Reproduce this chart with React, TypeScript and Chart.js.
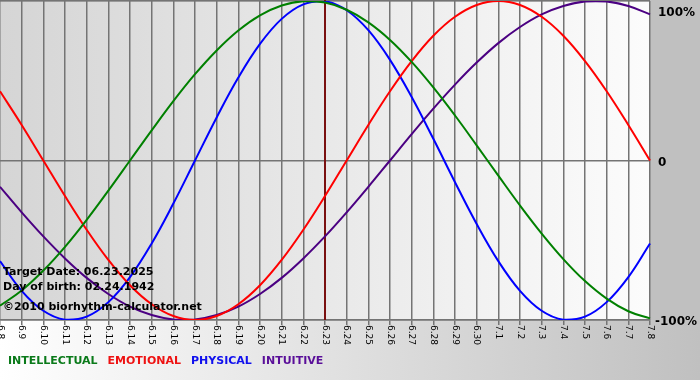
import React, { useEffect, useRef } from 'react';
import { Chart, registerables } from 'chart.js';

Chart.register(...registerables);

// ---- Data ----
const dayLabels = [
  '6.8', '6.9', '6.10', '6.11', '6.12', '6.13', '6.14', '6.15', '6.16', '6.17',
  '6.18', '6.19', '6.20', '6.21', '6.22', '6.23', '6.24', '6.25', '6.26', '6.27',
  '6.28', '6.29', '6.30', '7.1', '7.2', '7.3', '7.4', '7.5', '7.6', '7.7', '7.8',
];

const intellectual = [
  -0.91, -0.815, -0.69, -0.541, -0.372, -0.189, 0.0, 0.189, 0.372, 0.541,
  0.69, 0.815, 0.91, 0.972, 0.999, 0.99, 0.945, 0.866, 0.756, 0.618,
  0.458, 0.282, 0.095, -0.095, -0.282, -0.458, -0.618, -0.756, -0.866, -0.945, -0.99,
];

const emotional = [
  0.434, 0.223, 0.0, -0.223, -0.434, -0.623, -0.782, -0.901, -0.975, -1.0,
  -0.975, -0.901, -0.782, -0.623, -0.434, -0.223, 0.0, 0.223, 0.434, 0.623,
  0.782, 0.901, 0.975, 1.0, 0.975, 0.901, 0.782, 0.623, 0.434, 0.223, 0.0,
];

const physical = [
  -0.631, -0.817, -0.942, -0.998, -0.979, -0.888, -0.731, -0.52, -0.27, 0.0,
  0.27, 0.52, 0.731, 0.888, 0.979, 0.998, 0.942, 0.817, 0.631, 0.398,
  0.136, -0.136, -0.398, -0.631, -0.817, -0.942, -0.998, -0.979, -0.888, -0.731, -0.52,
];

const intuitive = [
  -0.165, -0.325, -0.476, -0.614, -0.736, -0.837, -0.916, -0.969, -0.997, -0.997,
  -0.969, -0.916, -0.837, -0.736, -0.614, -0.476, -0.325, -0.165, 0.0, 0.165,
  0.325, 0.476, 0.614, 0.736, 0.837, 0.916, 0.969, 0.997, 0.997, 0.969, 0.916,
];

const seriesNames = ['INTELLECTUAL', 'EMOTIONAL', 'PHYSICAL', 'INTUITIVE'];
const seriesColors = ['#008000', '#ff0000', '#0000ff', '#4b0082'];
const legendColors = ['#0a7a1a', '#ee1111', '#1010ee', '#5a0f99'];

const yTickValues = [1, 0, -1];
const yTickLabels = ['100%', '0', '-100%'];

const targetDay = '6.23';
const infoLines = [
  'Target Date: 06.23.2025',
  'Day of birth: 02.24.1942',
  '\u00A92010 biorhythm-calculator.net',
];

const FONT = "'DejaVu Sans', Verdana, sans-serif";

const decorPlugin = {
  id: 'decor',
  beforeDraw(chart: any) {
    const { ctx, width, height, chartArea: ca } = chart;
    ctx.save();
    const g = ctx.createLinearGradient(0, 0, width, 0);
    g.addColorStop(0, '#ffffff');
    g.addColorStop(1, '#c0c0c0');
    ctx.fillStyle = g;
    ctx.fillRect(0, 0, width, height);
    ctx.fillStyle = '#c0c0c0';
    ctx.fillRect(ca.right, 0, width - ca.right, ca.bottom);
    const g2 = ctx.createLinearGradient(ca.left, 0, ca.right, 0);
    g2.addColorStop(0, '#d5d5d5');
    g2.addColorStop(1, '#fcfcfc');
    ctx.fillStyle = g2;
    ctx.fillRect(ca.left, 0, ca.right - ca.left, ca.bottom);
    // top border
    ctx.strokeStyle = '#707070';
    ctx.lineWidth = 1.5;
    ctx.beginPath();
    ctx.moveTo(ca.left, 0.5);
    ctx.lineTo(ca.right, 0.5);
    ctx.stroke();
    ctx.restore();
  },
  beforeDatasetsDraw(chart: any) {
    const { ctx, chartArea: ca } = chart;
    const xs = chart.scales.x;
    const x = xs.getPixelForValue(dayLabels.indexOf(targetDay));
    ctx.save();
    ctx.strokeStyle = '#7a1010';
    ctx.lineWidth = 2;
    ctx.beginPath();
    ctx.moveTo(x, 0);
    ctx.lineTo(x, ca.bottom);
    ctx.stroke();
    ctx.restore();
  },
  afterDraw(chart: any) {
    const { ctx, chartArea: ca } = chart;
    const xs = chart.scales.x;
    const ys = chart.scales.y;
    ctx.save();
    // x tick labels, rotated clockwise
    ctx.fillStyle = '#000';
    ctx.font = `9px ${FONT}`;
    ctx.textAlign = 'left';
    ctx.textBaseline = 'middle';
    dayLabels.forEach((lab, i) => {
      const x = xs.getPixelForValue(i);
      ctx.save();
      ctx.translate(x, ca.bottom + 5);
      ctx.rotate(Math.PI / 2);
      ctx.fillText(lab, 0, 0);
      ctx.restore();
    });
    // y labels on the right
    ctx.font = `bold 12px ${FONT}`;
    ctx.textBaseline = 'middle';
    yTickValues.forEach((v, i) => {
      const y = ys.getPixelForValue(v);
      const off = v === 1 ? 12 : 2;
      const x = v === -1 ? ca.right + 5 : ca.right + 8;
      ctx.fillText(yTickLabels[i], x, y + off);
    });
    // info text
    ctx.font = `bold 11px ${FONT}`;
    const infoY = [272, 287, 307];
    infoLines.forEach((t, i) => ctx.fillText(t, 3, infoY[i]));
    // legend
    let lx = 8;
    seriesNames.forEach((n, i) => {
      ctx.fillStyle = legendColors[i];
      ctx.fillText(n, lx, 361);
      lx += ctx.measureText(n).width + 10;
    });
    ctx.restore();
  },
};

export default function App() {
  const ref = useRef<HTMLCanvasElement>(null);
  useEffect(() => {
    const series = [intellectual, emotional, physical, intuitive];
    const chart = new Chart(ref.current as HTMLCanvasElement, {
      type: 'line',
      data: {
        labels: dayLabels,
        datasets: series.map((d, i) => ({
          label: seriesNames[i],
          data: d,
          borderColor: seriesColors[i],
          backgroundColor: seriesColors[i],
          borderWidth: 2,
          pointRadius: 0,
          tension: 0.4,
          fill: false,
        })),
      },
      options: {
        responsive: false,
        animation: false,
        layout: { padding: { top: 1, left: 0, right: 0, bottom: 0 } },
        plugins: { legend: { display: false }, tooltip: { enabled: false } },
        scales: {
          x: {
            type: 'category',
            offset: false,
            ticks: { display: false },
            grid: { color: '#747474', lineWidth: 1.5, drawTicks: true, tickLength: 5 },
            border: { display: true, color: '#747474', width: 1.5 },
            afterFit(s: any) {
              s.height = 60;
            },
          },
          y: {
            position: 'right',
            min: -1,
            max: 1,
            ticks: { display: false, stepSize: 1 },
            grid: { color: '#747474', lineWidth: 1.5, drawTicks: false },
            border: { display: false },
            afterFit(s: any) {
              s.width = 50;
            },
          },
        },
      } as any,
      plugins: [decorPlugin],
    });
    return () => chart.destroy();
  }, []);
  return (
    <div style={{ position: 'absolute', left: 0, top: 0, width: 700, height: 380 }}>
      <canvas ref={ref} width={700} height={380} style={{ display: 'block', width: 700, height: 380 }} />
    </div>
  );
}
